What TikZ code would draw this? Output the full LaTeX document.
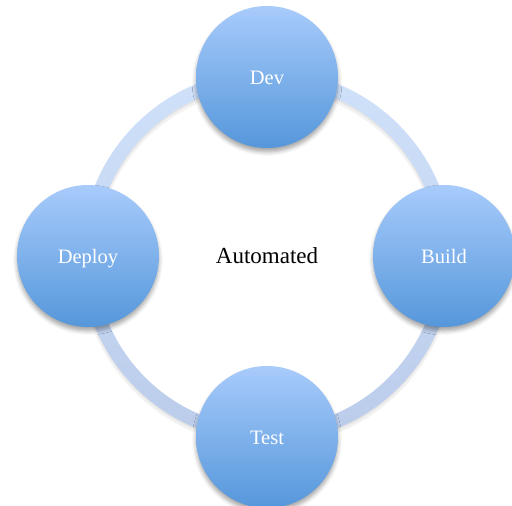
\documentclass[tikz,border=0pt]{standalone}
\usepackage{fontspec}
\setmainfont{Liberation Serif}
\usetikzlibrary{shadows.blur}
\definecolor{stagetop}{HTML}{A8CBFB}
\definecolor{stagebot}{HTML}{5597DB}
\definecolor{ringtop}{HTML}{D0E1FA}
\definecolor{ringbot}{HTML}{BACCEA}
\tikzstyle{stage} = [circle, minimum size = 142pt, inner sep = 0pt, text centered, text height = 16pt, text depth = 0pt, text = white, font = \fontsize{20.5}{24}\selectfont, top color = stagetop, bottom color = stagebot, blur shadow = {shadow xshift = 0pt, shadow yshift = -4pt, shadow blur radius = 4pt, shadow opacity = 35}]
\tikzstyle{centre} = [text centered, font = \fontsize{23}{27}\selectfont]

\begin{document}
\begin{tikzpicture}[x = 1pt, y = 1pt, node distance = 179pt]
    \useasboundingbox (0,0) rectangle (512,506);
    \node(auto)[centre] at (267,250){Automated};

    % the ring joining the stages, with a soft shadow
    \fill[black, opacity = 0.05, even odd rule]([yshift = -4pt]auto.center) circle (187) circle (171);
    \fill[black, opacity = 0.06, even odd rule]([yshift = -2pt]auto.center) circle (186) circle (172);
    \shade[top color = ringtop, bottom color = ringbot, even odd rule](auto.center) circle (186) circle (172);

    \node(dev)[stage, above of = auto]{Dev};
    \node(build)[stage, right of = auto, xshift = -2pt]{Build};
    \node(test)[stage, below of = auto, yshift = -2pt]{Test};
    \node(deploy)[stage, left of = auto]{Deploy};
\end{tikzpicture}
\end{document}
